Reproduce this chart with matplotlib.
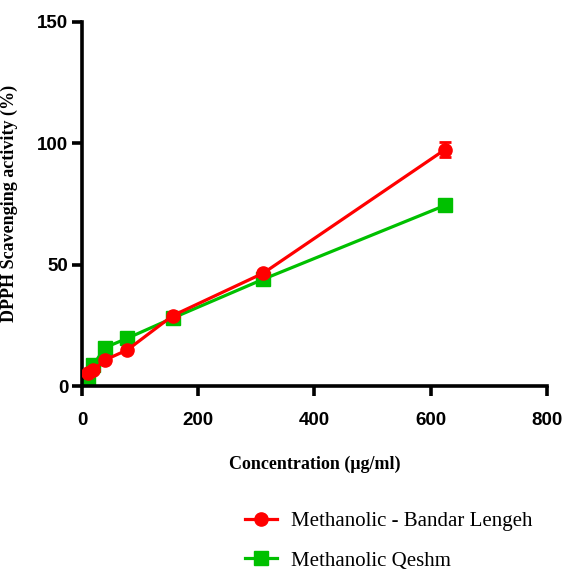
import matplotlib
matplotlib.use("Agg")
import matplotlib.pyplot as plt
from matplotlib.lines import Line2D

conc = [9.76, 19.5, 39, 78, 156, 312, 625]
bandar = [5.5, 6.6, 10.7, 14.9, 29.0, 46.5, 97.4]
bandar_err = [0.5, 0.5, 0.6, 0.6, 0.8, 1.0, 3.0]
qeshm = [1.4, 8.7, 15.8, 19.7, 28.0, 44.0, 74.4]
qeshm_err = [0.3, 0.4, 0.5, 0.5, 0.6, 0.8, 1.0]

xticks = [0, 200, 400, 600, 800]
yticks = [0, 50, 100, 150]

red = "#ff0000"
green = "#00c000"

fig = plt.figure(figsize=(5.66, 5.72), dpi=100)
ax = fig.add_axes([0.145, 0.325, 0.821, 0.637])

ax.errorbar(conc, bandar, yerr=bandar_err, color=red, marker="o",
            markersize=9.5, linewidth=2.3, capsize=4, capthick=2,
            elinewidth=2, zorder=3)
ax.errorbar(conc, qeshm, yerr=qeshm_err, color=green, marker="s",
            markersize=9.5, linewidth=2.3, capsize=4, capthick=2,
            elinewidth=2, zorder=2)

ax.set_xlim(0, 800)
ax.set_ylim(0, 150)
ax.set_xticks(xticks)
ax.set_yticks(yticks)
for lab in ax.get_xticklabels() + ax.get_yticklabels():
    lab.set_family("Liberation Sans")
    lab.set_fontweight("bold")
    lab.set_fontsize(13.5)

ax.spines["top"].set_visible(False)
ax.spines["right"].set_visible(False)
ax.spines["left"].set_linewidth(2.6)
ax.spines["bottom"].set_linewidth(2.6)
ax.tick_params(width=2.6, length=7, direction="out")
ax.tick_params(axis="x", pad=12)
ax.tick_params(axis="y", pad=3)

ax.set_xlabel("Concentration (\u03bcg/ml)", family="Liberation Serif",
              fontweight="bold", fontsize=13, labelpad=19)
ax.set_ylabel("DPPH Scavenging activity (%)", family="Liberation Serif",
              fontweight="bold", fontsize=13, labelpad=14)

h1 = Line2D([], [], color=red, marker="o", markersize=9.5, linewidth=2.3)
h2 = Line2D([], [], color=green, marker="s", markersize=9.5, linewidth=2.3)
fig.legend(handles=[h1, h2],
           labels=["Methanolic - Bandar Lengeh", "Methanolic Qeshm"],
           loc="upper left", bbox_to_anchor=(0.419, 0.12),
           frameon=False, prop={"family": "Liberation Serif", "size": 15},
           labelspacing=0.95, handlelength=1.5, handletextpad=0.7,
           borderaxespad=0)

fig.savefig("out.png", dpi=100)
